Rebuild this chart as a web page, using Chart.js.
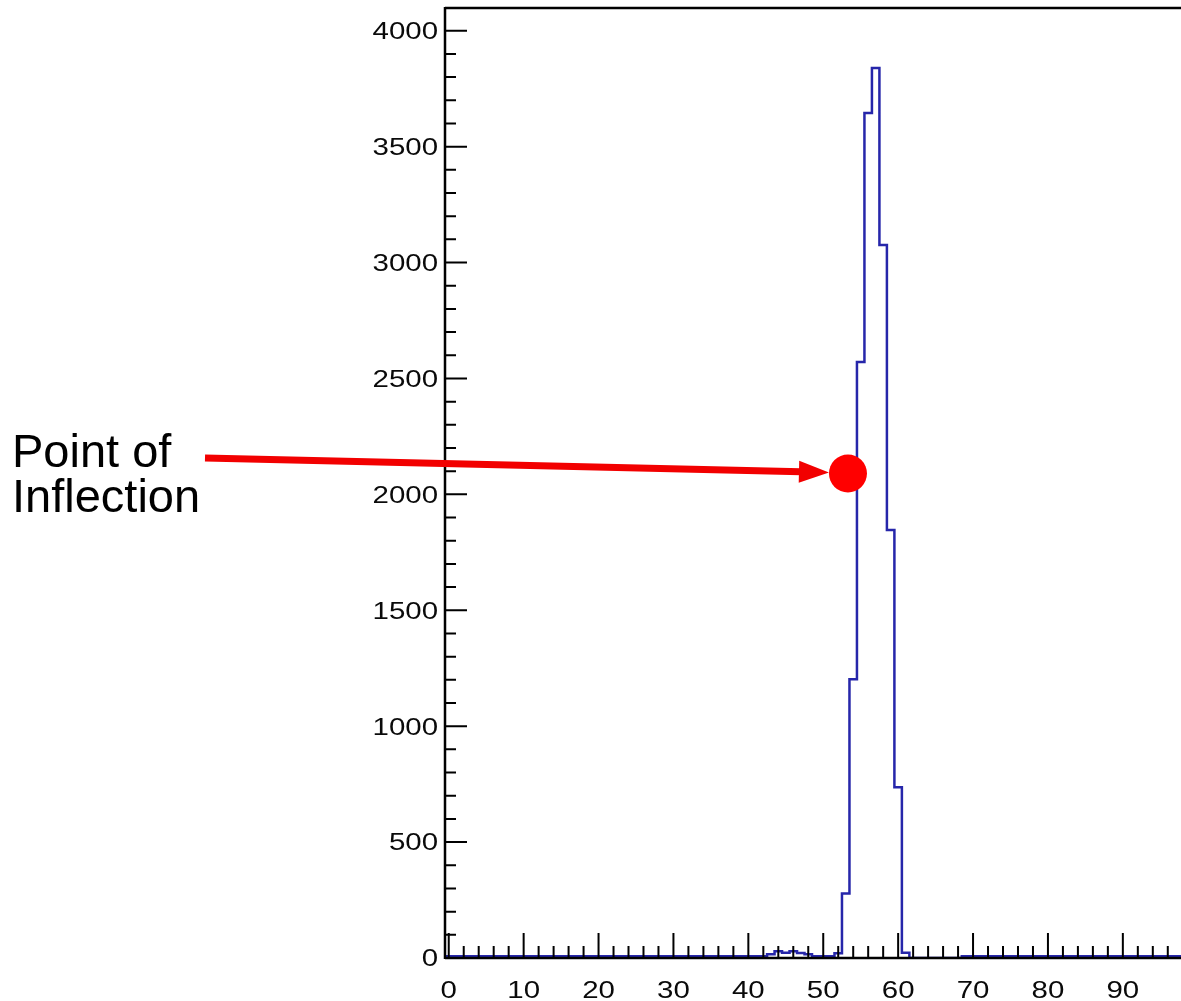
<!DOCTYPE html>
<html>
<head>
<meta charset="utf-8">
<script src="https://cdn.jsdelivr.net/npm/chart.js@4.4.1/dist/chart.umd.min.js"></script>
<style>
html, body { margin:0; padding:0; overflow:hidden; background:#fff; width:1181px; height:1001px; }
#wrap { position:relative; width:1200px; height:1001px; }
canvas { display:block; }
</style>
</head>
<body>
<div id="wrap"><canvas id="c" width="1200" height="1001"></canvas></div>
<script>
// ---- data ----
const binCenters = [
  0,1,2,3,4,5,6,7,8,9,
  10,11,12,13,14,15,16,17,18,19,
  20,21,22,23,24,25,26,27,28,29,
  30,31,32,33,34,35,36,37,38,39,
  40,41,42,43,44,45,46,47,48,49,
  50,51,52,53,54,55,56,57,58,59,
  60,61,62,63,64,65,66,67,68,69,
  70,71,72,73,74,75,76,77,78,79,
  80,81,82,83,84,85,86,87,88,89,
  90,91,92,93,94,95,96,97,98,99
];
const counts = [
  8,8,8,8,8,8,8,8,8,8,
  8,8,8,8,8,8,8,8,8,8,
  8,8,8,8,8,8,8,8,8,8,
  8,8,8,8,8,8,8,8,8,8,
  8,8,8,16,29,23,29,22,16,8,
  8,8,21,278,1202,2571,3645,3839,3076,1846,
  737,23,0,0,0,0,0,0,0,8,
  8,8,8,8,8,8,8,8,8,8,
  8,8,8,8,8,8,8,8,8,8,
  8,8,8,8,8,8,8,8,8,8
];
const inflectionPoint = { x: 53.3, y: 2090 };
const annotationLines = ["Point of", "Inflection"];

const xMajorTicks = [0,10,20,30,40,50,60,70,80,90];
const xTickLabels = ["0","10","20","30","40","50","60","70","80","90"];
const yMajorTicks = [0,500,1000,1500,2000,2500,3000,3500,4000];
const yTickLabels = ["0","500","1000","1500","2000","2500","3000","3500","4000"];

// ---- build table for the library ----
const histPoints = binCenters.map((c, i) => ({ x: c - 0.5, y: counts[i] }));
histPoints.push({ x: binCenters[binCenters.length - 1] + 0.5, y: counts[counts.length - 1] });

const LABEL_FONT = '23px "Liberation Sans", Arial, Helvetica, sans-serif';
const STRETCH = 1.28;

const rootAxes = {
  id: 'rootAxes',
  afterDatasetsDraw(chart) {
    const { ctx, chartArea: a, scales: { x, y } } = chart;
    ctx.save();
    ctx.strokeStyle = '#000';
    ctx.lineWidth = 2.5;
    ctx.beginPath();
    ctx.moveTo(a.left, a.top); ctx.lineTo(a.right, a.top);
    ctx.moveTo(a.left, a.top - 1); ctx.lineTo(a.left, a.bottom + 1);
    ctx.moveTo(a.left, a.bottom); ctx.lineTo(a.right, a.bottom);
    ctx.moveTo(a.right, a.top); ctx.lineTo(a.right, a.bottom);
    ctx.stroke();

    ctx.lineWidth = 2;
    ctx.beginPath();
    // x minor ticks every 2
    for (let v = 0; v <= 98; v += 2) {
      if (v % 10 === 0) continue;
      const px = x.getPixelForValue(v);
      ctx.moveTo(px, a.bottom); ctx.lineTo(px, a.bottom - 12);
    }
    xMajorTicks.forEach(v => {
      const px = x.getPixelForValue(v);
      ctx.moveTo(px, a.bottom); ctx.lineTo(px, a.bottom - 25);
    });
    // y minor ticks every 100
    for (let v = 0; v <= 4000; v += 100) {
      if (v % 500 === 0) continue;
      const py = y.getPixelForValue(v);
      ctx.moveTo(a.left, py); ctx.lineTo(a.left + 11, py);
    }
    yMajorTicks.forEach(v => {
      const py = y.getPixelForValue(v);
      ctx.moveTo(a.left, py); ctx.lineTo(a.left + 22, py);
    });
    ctx.stroke();

    // labels
    ctx.fillStyle = '#0a0a0a';
    ctx.font = LABEL_FONT;
    ctx.textAlign = 'right';
    ctx.textBaseline = 'middle';
    yMajorTicks.forEach((v, i) => {
      const py = y.getPixelForValue(v);
      ctx.save();
      ctx.translate(a.left - 7, py + 2);
      ctx.scale(STRETCH, 1);
      ctx.fillText(yTickLabels[i], 0, 0);
      ctx.restore();
    });
    ctx.textAlign = 'center';
    ctx.textBaseline = 'alphabetic';
    xMajorTicks.forEach((v, i) => {
      const px = x.getPixelForValue(v);
      ctx.save();
      ctx.translate(px, a.bottom + 40);
      ctx.scale(STRETCH, 1);
      ctx.fillText(xTickLabels[i], 0, 0);
      ctx.restore();
    });
    ctx.restore();
  },
  afterDraw(chart) {
    const { ctx, scales: { x, y } } = chart;
    const dx = x.getPixelForValue(inflectionPoint.x);
    const dy = y.getPixelForValue(inflectionPoint.y);
    const r = 19;
    ctx.save();
    // annotation text
    ctx.fillStyle = '#000';
    ctx.font = '47px "Liberation Sans", Arial, Helvetica, sans-serif';
    ctx.textAlign = 'left';
    ctx.textBaseline = 'alphabetic';
    ctx.fillText(annotationLines[0], 12, 467);
    ctx.fillText(annotationLines[1], 12, 512);
    // arrow
    const sx = 205, sy = 458;
    const tx = dx - r, ty = dy - 1;
    const ang = Math.atan2(ty - sy, tx - sx);
    const headLen = 30, headHalf = 11;
    const bx = tx - headLen * Math.cos(ang), by = ty - headLen * Math.sin(ang);
    ctx.strokeStyle = '#f20000';
    ctx.fillStyle = '#f20000';
    ctx.lineWidth = 7;
    ctx.beginPath();
    ctx.moveTo(sx, sy); ctx.lineTo(bx + 2 * Math.cos(ang), by + 2 * Math.sin(ang));
    ctx.stroke();
    ctx.beginPath();
    ctx.moveTo(tx, ty);
    ctx.lineTo(bx - headHalf * Math.sin(ang), by + headHalf * Math.cos(ang));
    ctx.lineTo(bx + headHalf * Math.sin(ang), by - headHalf * Math.cos(ang));
    ctx.closePath();
    ctx.fill();
    ctx.restore();
  }
};

new Chart(document.getElementById('c'), {
  type: 'line',
  data: {
    datasets: [
      {
        type: 'scatter',
        label: 'Point of Inflection',
        data: [inflectionPoint],
        pointRadius: 19,
        pointHoverRadius: 19,
        backgroundColor: '#ff0000',
        borderWidth: 0,
        clip: false,
        order: 0
      },
      {
        label: 'histogram',
        data: histPoints,
        stepped: 'before',
        borderColor: '#2626aa',
        borderWidth: 2.5,
        pointRadius: 0,
        fill: false,
        clip: { left: 5, right: 5, top: 5, bottom: 0 },
        order: 1
      }
    ]
  },
  options: {
    responsive: false,
    animation: false,
    devicePixelRatio: 1,
    layout: { autoPadding: false, padding: { left: 445, top: 8, right: 6, bottom: 43 } },
    plugins: { legend: { display: false }, tooltip: { enabled: false } },
    scales: {
      x: { type: 'linear', display: false, min: -0.5, max: 99.5 },
      y: { type: 'linear', display: false, min: 0, max: 4098 }
    }
  },
  plugins: [rootAxes]
});
</script>
</body>
</html>
